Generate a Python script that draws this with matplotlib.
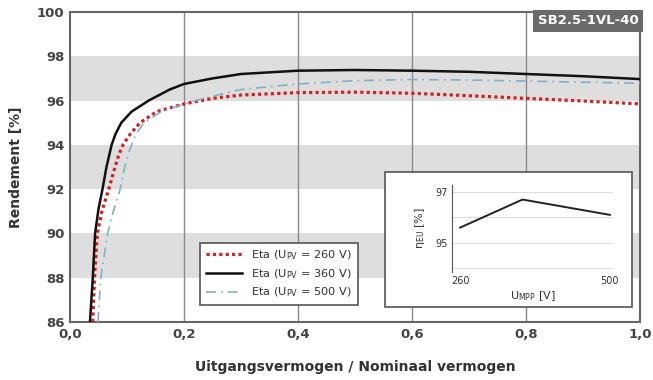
import matplotlib.pyplot as plt
from matplotlib.patches import Rectangle

plt.rcParams['font.family'] = ['DejaVu Sans']

# Efficiency curves
x_260 = [0.040, 0.043, 0.048, 0.056, 0.068, 0.079, 0.085, 0.093, 0.106, 0.123, 0.152, 0.20, 0.25, 0.30, 0.40, 0.50, 0.60, 0.70, 0.80, 0.90, 1.00]
eta_260 = [86.0, 88.0, 90.0, 91.0, 92.0, 93.0, 93.5, 94.0, 94.5, 95.0, 95.5, 95.85, 96.1, 96.25, 96.36, 96.38, 96.33, 96.22, 96.1, 95.98, 95.85]

x_360 = [0.035, 0.040, 0.044, 0.050, 0.057, 0.064, 0.073, 0.080, 0.090, 0.108, 0.138, 0.175, 0.20, 0.25, 0.30, 0.40, 0.50, 0.60, 0.70, 0.80, 0.90, 1.00]
eta_360 = [86.0, 88.0, 90.0, 91.1, 92.0, 93.0, 94.0, 94.5, 95.0, 95.5, 96.0, 96.5, 96.75, 97.0, 97.2, 97.35, 97.38, 97.35, 97.3, 97.2, 97.1, 96.97]

x_500 = [0.049, 0.054, 0.066, 0.076, 0.088, 0.096, 0.105, 0.116, 0.130, 0.160, 0.20, 0.25, 0.30, 0.40, 0.50, 0.60, 0.70, 0.80, 0.90, 1.00]
eta_500 = [86.0, 88.0, 90.0, 91.0, 92.0, 93.0, 93.8, 94.5, 95.0, 95.5, 95.85, 96.2, 96.5, 96.75, 96.9, 96.95, 96.93, 96.88, 96.83, 96.78]

labels = ['Eta (U$_{\\mathrm{PV}}$ = 260 V)', 'Eta (U$_{\\mathrm{PV}}$ = 360 V)', 'Eta (U$_{\\mathrm{PV}}$ = 500 V)']

x_ticks = [0.0, 0.2, 0.4, 0.6, 0.8, 1.0]
x_tick_labels = ['0,0', '0,2', '0,4', '0,6', '0,8', '1,0']
y_ticks = [86, 88, 90, 92, 94, 96, 98, 100]
bands = [(88, 90), (92, 94), (96, 98)]

# European efficiency vs MPP voltage (inset)
u_mpp = [260, 360, 500]
eta_eu = [95.6, 96.7, 96.1]

fig = plt.figure(figsize=(6.53, 3.80), dpi=100)
ax = fig.add_axes([70 / 653, 1 - 322 / 380, 570 / 653, 310 / 380])

for lo, hi in bands:
    ax.axhspan(lo, hi, color='#dedede', lw=0, zorder=0)
for xv in x_ticks[1:-1]:
    ax.axvline(xv, color='#8a8a8a', lw=1, zorder=1)

ax.plot(x_260, eta_260, color='#d42020', lw=2.3, linestyle=(0, (1, 1)), label=labels[0], zorder=3)
ax.plot(x_360, eta_360, color='#111111', lw=1.8, label=labels[1], zorder=4)
ax.plot(x_500, eta_500, color='#7fb2c9', lw=1.2, linestyle=(0, (6, 3, 1, 3)), label=labels[2], zorder=3)

ax.set_xlim(0, 1.0)
ax.set_ylim(86, 100)
ax.set_xticks(x_ticks)
ax.set_xticklabels(x_tick_labels)
ax.set_yticks(y_ticks)
ax.tick_params(length=0, labelsize=9.5, colors='#444444', pad=4)
for t in ax.get_xticklabels() + ax.get_yticklabels():
    t.set_fontweight('bold')
for s in ax.spines.values():
    s.set_color('#666666')
    s.set_linewidth(1.5)

ax.set_ylabel('Rendement [%]', fontsize=10, fontweight='bold', color='#333333', labelpad=10)
ax.set_xlabel('Uitgangsvermogen / Nominaal vermogen', fontsize=10, fontweight='bold', color='#333333', labelpad=14)

leg = ax.legend(loc='lower left', bbox_to_anchor=((200 - 70) / 570, 17 / 310), fontsize=8.2,
                fancybox=False, framealpha=1, edgecolor='#555555', handlelength=3.2,
                borderpad=0.5, labelspacing=0.45, borderaxespad=0)
leg.get_frame().set_linewidth(1.2)
for t in leg.get_texts():
    t.set_color('#333333')

ax.text(0.997, 0.993, 'SB2.5-1VL-40', transform=ax.transAxes, ha='right', va='top',
        fontsize=9.5, fontweight='bold', color='white', zorder=6,
        bbox=dict(boxstyle='square,pad=0.35', fc='#6a6a6a', ec='none'))

# inset frame
fig.patches.append(Rectangle((385 / 653, 1 - 307 / 380), 247 / 653, 135 / 380,
                             transform=fig.transFigure, fc='white', ec='#555555', lw=1.2, zorder=5))

ins = fig.add_axes([452 / 653, 1 - 272 / 380, 161 / 653, 87 / 380])
ins.set_zorder(6)
ins.patch.set_alpha(0)
for yv in [94, 95, 96, 97]:
    ins.axhline(yv, color='#dddddd', lw=0.8, zorder=0)
ins.plot(u_mpp, eta_eu, color='#222222', lw=1.4)
ins.set_xlim(247, 505)
ins.set_ylim(93.86, 97.27)
ins.set_xticks([260, 500])
ins.set_yticks([95, 97])
ins.tick_params(length=0, labelsize=7, colors='#333333', pad=3)
for s in ['top', 'right', 'bottom']:
    ins.spines[s].set_visible(False)
ins.spines['left'].set_color('#555555')
ins.set_ylabel('η$_{\\mathrm{EU}}$ [%]', fontsize=8, color='#333333', labelpad=6)
ins.set_xlabel('U$_{\\mathrm{MPP}}$ [V]', fontsize=8, color='#333333', labelpad=2)

fig.savefig('out.png', dpi=100)
